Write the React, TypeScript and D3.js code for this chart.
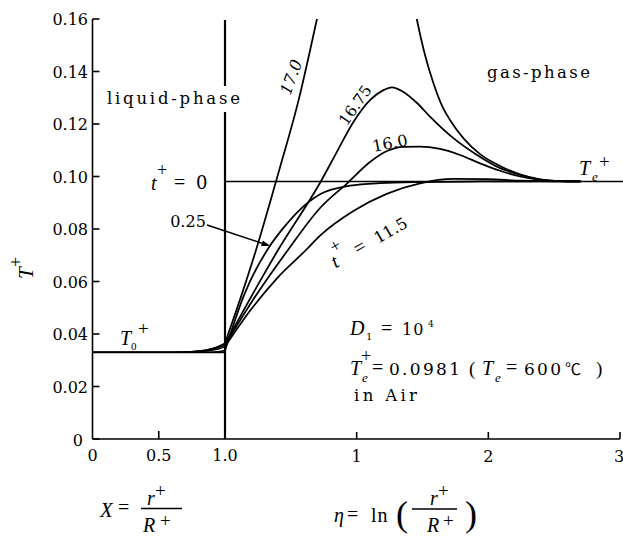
import React from 'react';
import * as d3 from 'd3';

const W = 623;
const H = 542;

// Axis ticks
const yTicks = [0, 0.02, 0.04, 0.06, 0.08, 0.1, 0.12, 0.14, 0.16];
const yTickLabels = ['0', '0.02', '0.04', '0.06', '0.08', '0.10', '0.12', '0.14', '0.16'];
const xLiquidTicks = [0, 0.5, 1.0];
const xLiquidTickLabels = ['0', '0.5', '1.0'];
const etaTicks = [1, 2, 3];
const etaTickLabels = ['1', '2', '3'];

// Initial state (t+ = 0)
const T0 = 0.033;
const Te = 0.0981;

// Liquid-phase profiles, T+ at each X
const liquidX = [0, 0.5, 0.7, 0.8, 0.9, 0.95, 1.0];
const liq025 = [0.033, 0.033, 0.033, 0.033, 0.0331, 0.0333, 0.0337];
const liq115 = [0.033, 0.033, 0.0331, 0.0333, 0.0338, 0.0343, 0.0352];
const liq160 = [0.033, 0.033, 0.0331, 0.0334, 0.0341, 0.0348, 0.0358];
const liq1675 = [0.033, 0.033, 0.0331, 0.0335, 0.0343, 0.0351, 0.0362];
const liq170 = [0.033, 0.033, 0.0331, 0.0335, 0.0344, 0.0353, 0.0365];

// Gas-phase profiles, [eta, T+]
const gas025: [number, number][] = [
  [0, 0.0337], [0.15, 0.0555], [0.327, 0.0725], [0.45, 0.0808], [0.57, 0.0874],
  [0.722, 0.0932], [0.949, 0.0965], [1.18, 0.0975], [1.48, 0.0979], [1.94, 0.0981], [2.7, 0.0981],
];
const gas115: [number, number][] = [
  [0, 0.0352], [0.2, 0.0495], [0.4, 0.0615], [0.615, 0.072], [0.722, 0.0775],
  [0.972, 0.0868], [1.228, 0.0934], [1.481, 0.0974], [1.732, 0.0991], [1.99, 0.099],
  [2.24, 0.0984], [2.6, 0.0981], [2.7, 0.0981],
];
const gas160: [number, number][] = [
  [0, 0.0358], [0.2, 0.052], [0.478, 0.072], [0.722, 0.088], [0.934, 0.0977],
  [1.101, 0.1055], [1.23, 0.1097], [1.352, 0.1113], [1.481, 0.1114], [1.633, 0.1105],
  [1.785, 0.1082], [1.937, 0.105], [2.089, 0.1022], [2.24, 0.1], [2.392, 0.0988],
  [2.544, 0.0982], [2.7, 0.0981],
];
const gas1675: [number, number][] = [
  [0, 0.0362], [0.403, 0.072], [0.722, 0.0976], [0.851, 0.1095], [0.972, 0.1205],
  [1.101, 0.1291], [1.2, 0.1328], [1.268, 0.134], [1.352, 0.1323], [1.458, 0.128],
  [1.557, 0.1228], [1.732, 0.1147], [1.914, 0.1082], [2.089, 0.1032], [2.24, 0.1006],
  [2.392, 0.0988], [2.544, 0.0982], [2.7, 0.0981],
];
const gas170Rise: [number, number][] = [
  [0, 0.0365], [0.1, 0.051], [0.235, 0.0719], [0.411, 0.1023], [0.558, 0.1289],
  [0.697, 0.1596], [0.752, 0.172],
];
const gas170Fall: [number, number][] = [
  [1.41, 0.172], [1.458, 0.1596], [1.519, 0.1463], [1.58, 0.136], [1.656, 0.1261],
  [1.709, 0.1215], [1.81, 0.1146], [1.937, 0.1085], [2.089, 0.104], [2.24, 0.1008],
  [2.392, 0.0989], [2.544, 0.0982], [2.7, 0.0981],
];

const liquidProfiles = [liq025, liq115, liq160, liq1675, liq170];
const gasProfiles = [gas025, gas115, gas160, gas1675, gas170Rise, gas170Fall];

// Point on the t+ = 0.25 curve where the leader arrow ends
const arrowTip: [number, number] = [0.345, 0.0735];

const fNum = "'DejaVu Serif', serif";
const fMath = "'Liberation Serif', 'Times New Roman', serif";

export default function App() {
  const y = d3.scaleLinear().domain([0, 0.16]).range([439, 19]);
  const xL = d3.scaleLinear().domain([0, 1]).range([92.5, 225]);
  const xG = d3.scaleLinear().domain([0, 3]).range([225, 620]);

  const liqLine = d3
    .line<number>()
    .x((_, i) => xL(liquidX[i]))
    .y((d) => y(d))
    .curve(d3.curveMonotoneX);
  const gasLine = d3
    .line<[number, number]>()
    .x((d) => xG(d[0]))
    .y((d) => y(d[1]))
    .curve(d3.curveMonotoneX);

  const y0 = y(0);
  const yTop = y(0.16);
  const xI = xL(1);

  const tipX = xG(arrowTip[0]);
  const tipY = y(arrowTip[1]);
  const ax0 = 207;
  const ay0 = 225;
  const ang = Math.atan2(tipY - ay0, tipX - ax0);
  const ah = 9;
  const aw = 3;
  const bx = tipX - ah * Math.cos(ang);
  const by = tipY - ah * Math.sin(ang);
  const arrowHead = `M${tipX},${tipY} L${bx + aw * Math.sin(ang)},${by - aw * Math.cos(ang)} L${bx - aw * Math.sin(ang)},${by + aw * Math.cos(ang)} Z`;

  return (
    <svg
      width={W}
      height={H}
      viewBox={`0 0 ${W} ${H}`}
      style={{ position: 'absolute', left: 0, top: 0, background: '#fff' }}
    >
      <defs>
        <clipPath id="plotClip">
          <rect x={90} y={yTop} width={W - 90} height={y0 - yTop + 2} />
        </clipPath>
      </defs>
      <rect x={0} y={0} width={W} height={H} fill="#fff" />

      {/* axes */}
      <g stroke="#000" strokeWidth={1.6} fill="none">
        <line x1={xL(0)} y1={y0} x2={xL(0)} y2={yTop} />
        <line x1={xL(0)} y1={y0} x2={xG(3)} y2={y0} />
        {yTicks.map((t) => (
          <line key={`yt${t}`} x1={xL(0)} x2={xL(0) + 7} y1={y(t)} y2={y(t)} />
        ))}
        <line x1={xL(0.5)} x2={xL(0.5)} y1={y0} y2={y0 - 8} />
        {etaTicks.map((t) => (
          <line key={`et${t}`} x1={xG(t)} x2={xG(t)} y1={y0} y2={y0 - 7} />
        ))}
        {/* droplet surface */}
        <line x1={xI} y1={y0} x2={xI} y2={yTop + 1} strokeWidth={2.2} />
      </g>

      {/* tick labels */}
      <g fontFamily={fNum} fontSize={16} fill="#000">
        {yTicks.map((t, i) => (
          <text key={`yl${t}`} x={t === 0 ? 83 : 88} y={y(t) + (t === 0 ? 7 : 6)} textAnchor="end">
            {yTickLabels[i]}
          </text>
        ))}
        {xLiquidTicks.map((t, i) => (
          <text key={`xl${t}`} x={xL(t)} y={461} textAnchor="middle">
            {xLiquidTickLabels[i]}
          </text>
        ))}
        {etaTicks.map((t, i) => (
          <text key={`el${t}`} x={t === 3 ? xG(t) - 1 : xG(t)} y={462} textAnchor="middle">
            {etaTickLabels[i]}
          </text>
        ))}
      </g>

      {/* curves */}
      <g clipPath="url(#plotClip)" fill="none" stroke="#000" strokeWidth={1.75}>
        <line x1={xL(0)} x2={xL(1)} y1={y(T0)} y2={y(T0)} />
        <line x1={xG(0)} x2={xG(3) + 3} y1={y(Te)} y2={y(Te)} strokeWidth={1.3} />
        {liquidProfiles.map((p, i) => (
          <path key={`lp${i}`} d={liqLine(p) ?? ''} strokeWidth={1.4} />
        ))}
        {gasProfiles.map((p, i) => (
          <path key={`gp${i}`} d={gasLine(p) ?? ''} />
        ))}
      </g>

      {/* leader for t+ = 0.25 */}
      <line x1={ax0} y1={ay0} x2={bx} y2={by} stroke="#000" strokeWidth={1.4} />
      <path d={arrowHead} fill="#000" />

      {/* phase labels */}
      <rect x={104} y={86} width={140} height={26} fill="#fff" />
      <text x={107} y={104} fontFamily={fNum} fontSize={16.5} textLength={133} lengthAdjust="spacing">
        liquid-phase
      </text>
      <text x={487} y={78} fontFamily={fNum} fontSize={16.5} textLength={103} lengthAdjust="spacing">
        gas-phase
      </text>

      {/* t+ = 0 */}
      <text x={151} y={190} fontFamily={fMath} fontStyle="italic" fontSize={20}>t</text>
      <text x={157} y={176} fontFamily={fMath} fontSize={18}>+</text>
      <text x={174} y={189} fontFamily={fMath} fontSize={20}>=</text>
      <text x={196} y={188.5} fontFamily={fNum} fontSize={18}>0</text>

      {/* 0.25 */}
      <text x={188} y={226.5} fontFamily={fNum} fontSize={16} textAnchor="middle">0.25</text>

      {/* curve labels */}
      <text
        transform="translate(291,77) rotate(-70)"
        fontFamily={fNum}
        fontStyle="italic"
        fontSize={16}
        textAnchor="middle"
        dy="0.36em"
      >
        17.0
      </text>
      <text transform="translate(355,105) rotate(-55)" fontFamily={fNum} fontSize={15.5} textAnchor="middle" dy="0.36em">
        16.75
      </text>
      <text transform="translate(390,143) rotate(-11)" fontFamily={fNum} fontSize={16} textAnchor="middle" dy="0.36em">
        16.0
      </text>
      <g transform="translate(335.5,268.6) rotate(-30)">
        <text x={0} y={0} fontFamily={fMath} fontStyle="italic" fontSize={20}>t</text>
        <text x={6} y={-14} fontFamily={fMath} fontSize={18}>+</text>
        <text x={26} y={0} fontFamily={fMath} fontSize={20}>=</text>
        <text x={49} y={0} fontFamily={fNum} fontSize={16}>11.5</text>
      </g>

      {/* T_e+ and T_0+ */}
      <text x={579} y={175} fontFamily={fMath} fontStyle="italic" fontSize={20}>T</text>
      <text x={592} y={181} fontFamily={fMath} fontStyle="italic" fontSize={13}>e</text>
      <text x={599} y={168} fontFamily={fMath} fontSize={19}>+</text>

      <text x={120} y={345} fontFamily={fMath} fontStyle="italic" fontSize={20}>T</text>
      <text x={131} y={350} fontFamily={fMath} fontSize={11}>0</text>
      <text x={138} y={335} fontFamily={fMath} fontSize={19}>+</text>

      {/* y-axis title */}
      <g transform="translate(33,279) rotate(-90)">
        <text x={0} y={0} fontFamily={fMath} fontStyle="italic" fontSize={21}>T</text>
        <text x={12} y={-11} fontFamily={fMath} fontSize={18}>+</text>
      </g>

      {/* condition notes */}
      <text x={350} y={335} fontFamily={fMath} fontStyle="italic" fontSize={20}>D</text>
      <text x={366} y={340} fontFamily={fNum} fontSize={10}>1</text>
      <text x={381} y={335} fontFamily={fMath} fontSize={20}>=</text>
      <text x={402} y={335} fontFamily={fNum} fontSize={16} letterSpacing={1}>10</text>
      <text x={428} y={327} fontFamily={fNum} fontSize={9}>4</text>

      <text x={350} y={375} fontFamily={fMath} fontStyle="italic" fontSize={20}>T</text>
      <text x={362} y={382} fontFamily={fMath} fontStyle="italic" fontSize={13}>e</text>
      <text x={361} y={362} fontFamily={fMath} fontSize={18}>+</text>
      <text x={372} y={374} fontFamily={fMath} fontSize={20}>=</text>
      <text x={389} y={375} fontFamily={fNum} fontSize={17} letterSpacing={2.3}>0.0981</text>
      <text x={469} y={375} fontFamily={fMath} fontSize={19}>(</text>
      <text x={482} y={375} fontFamily={fMath} fontStyle="italic" fontSize={20}>T</text>
      <text x={495} y={382} fontFamily={fMath} fontStyle="italic" fontSize={13}>e</text>
      <text x={506} y={374} fontFamily={fMath} fontSize={20}>=</text>
      <text x={524} y={375} fontFamily={fNum} fontSize={17} letterSpacing={2.3}>600</text>
      <text x={565} y={375} fontFamily="'Noto Sans CJK JP', 'DejaVu Sans', sans-serif" fontSize={16}>℃</text>
      <text x={596} y={375} fontFamily={fMath} fontSize={19}>)</text>

      <text x={354} y={401} fontFamily={fNum} fontSize={16.5} textLength={63} lengthAdjust="spacing">in Air</text>

      {/* x-axis titles */}
      <text x={100} y={517} fontFamily={fMath} fontStyle="italic" fontSize={21}>X</text>
      <text x={118} y={514} fontFamily={fMath} fontSize={20}>=</text>
      <line x1={141} x2={182} y1={508.5} y2={508.5} stroke="#000" strokeWidth={1.3} />
      <text x={147} y={505} fontFamily={fMath} fontStyle="italic" fontSize={20}>r</text>
      <text x={155} y={497} fontFamily={fMath} fontSize={19}>+</text>
      <text x={143} y={532} fontFamily={fMath} fontStyle="italic" fontSize={20}>R</text>
      <text x={160} y={527} fontFamily={fMath} fontSize={19}>+</text>

      <text x={334} y={522} fontFamily={fMath} fontStyle="italic" fontSize={20}>η</text>
      <text x={347} y={521} fontFamily={fMath} fontSize={20}>=</text>
      <text x={371} y={522} fontFamily={fMath} fontSize={20} letterSpacing={1}>ln</text>
      <text x={396} y={526} fontFamily={fMath} fontSize={36} fontWeight={300}>(</text>
      <line x1={412} x2={457} y1={509} y2={509} stroke="#000" strokeWidth={1.3} />
      <text x={430} y={505} fontFamily={fMath} fontStyle="italic" fontSize={20}>r</text>
      <text x={438} y={497} fontFamily={fMath} fontSize={19}>+</text>
      <text x={427} y={532} fontFamily={fMath} fontStyle="italic" fontSize={20}>R</text>
      <text x={443} y={527} fontFamily={fMath} fontSize={19}>+</text>
      <text x={465} y={526} fontFamily={fMath} fontSize={36} fontWeight={300}>)</text>
    </svg>
  );
}
